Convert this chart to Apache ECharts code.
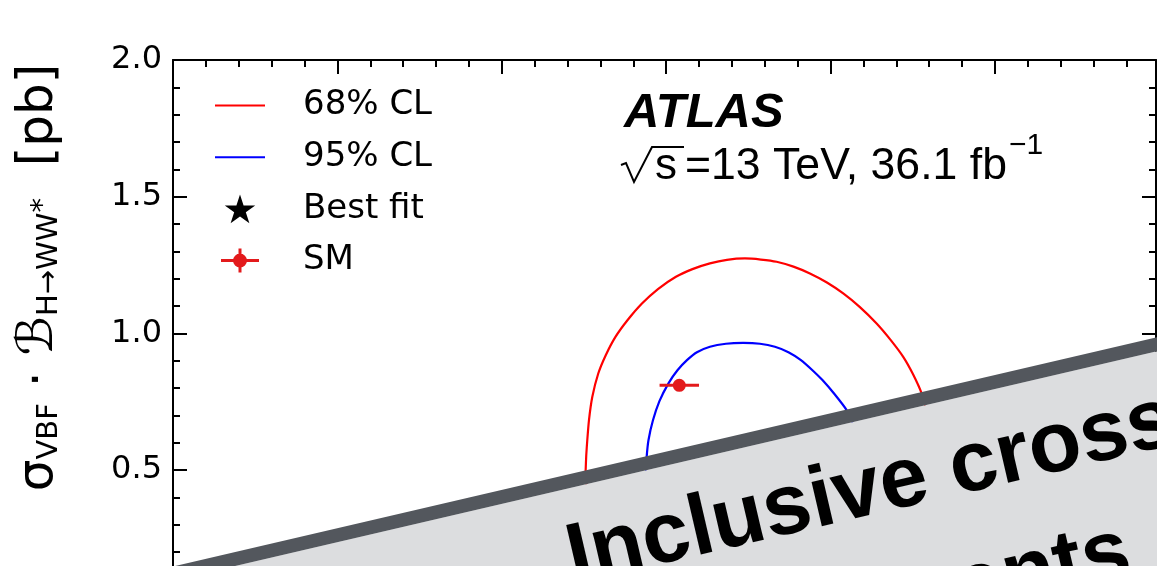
<!DOCTYPE html>
<html>
<head>
<meta charset="utf-8">
<script src="https://cdn.jsdelivr.net/npm/echarts@6/dist/echarts.min.js"></script>
<style>
  html, body { margin: 0; padding: 0; background: #fff; }
  #chart { width: 1157px; height: 566px; }
</style>
</head>
<body>
<div id="chart"></div>
<script>
// Likelihood contours in the (σggF·B, σVBF·B) plane, values in pb
const contour68 = [
  [7.546,0.463],[7.552,0.499],[7.570,0.554],[7.601,0.609],[7.652,0.682],[7.753,0.767],[7.935,0.853],
  [8.163,0.920],[8.458,0.987],[8.823,1.048],[9.264,1.109],[9.751,1.162],[10.298,1.207],[10.800,1.235],
  [11.332,1.256],[11.849,1.269],[12.397,1.274],[12.880,1.270],[13.360,1.262],[13.872,1.244],[14.373,1.219],
  [14.890,1.186],[15.386,1.146],[15.894,1.096],[16.402,1.036],[16.820,0.977],[17.211,0.914],[17.506,0.851],
  [17.771,0.780],[17.95,0.70],[18.06,0.60],[18.10,0.50],[18.05,0.40],[17.88,0.30],[17.55,0.21],
  [17.00,0.13],[16.20,0.07],[15.20,0.04],[14.00,0.03],[12.80,0.05],[11.60,0.09],[10.50,0.14],
  [9.50,0.20],[8.70,0.26],[8.10,0.33],[7.72,0.40],[7.546,0.463]
];
const contour95 = [
  [9.386,0.499],[9.407,0.548],[9.462,0.609],[9.599,0.682],[9.796,0.752],[10.070,0.817],[10.344,0.865],
  [10.633,0.902],[10.937,0.931],[11.332,0.951],[11.818,0.962],[12.345,0.965],[12.853,0.962],[13.309,0.951],
  [13.720,0.931],[14.100,0.902],[14.450,0.865],[14.754,0.829],[15.119,0.778],[15.490,0.719],[15.773,0.646],
  [15.925,0.554],[15.955,0.463],[15.85,0.38],[15.55,0.30],[15.00,0.23],[14.20,0.19],[13.30,0.17],
  [12.30,0.17],[11.40,0.20],[10.60,0.26],[10.00,0.33],[9.60,0.41],[9.386,0.499]
];
// best-fit point
const bestFit = [[11.4, 0.50]];
// SM prediction: x, y, x uncertainty, y uncertainty
const smPoint = [[10.4, 0.81, 0.6, 0.02]];

const legendNames = ['68% CL', '95% CL', 'Best fit', 'SM'];
const yTickLabels = { 0: '0.0', 0.5: '0.5', 1: '1.0', 1.5: '1.5', 2: '2.0' };
const headingLines = ['Inclusive cross section', 'measurements'];

const RED = '#ff0000';
const BLUE = '#0000ff';
const SM_RED = '#e31a1c';
const FONT = 'DejaVu Sans';

// legend glyphs, drawn in a 50x30 box (the leading moves pin the box size)
const BOX = 'M0 0M50 30';
const lineIcon = 'path://' + BOX + 'M0 14L50 14L50 16L0 16Z';
const starShape = 'M25 0.5L28.59 11.56L40.22 11.56L30.81 18.39L34.40 29.44L25 22.61L15.60 29.44L19.19 18.39L9.78 11.56L21.41 11.56Z';
const starIcon = 'path://' + BOX + starShape;
const smIcon = 'path://' + BOX +
  'M6 13.5L44 13.5L44 16.5L6 16.5Z' +
  'M23.5 3L26.5 3L26.5 27L23.5 27Z' +
  'M18 15A7 7 0 1 1 32 15A7 7 0 1 1 18 15Z';

const chart = echarts.init(document.getElementById('chart'), null, { renderer: 'canvas' });

const axisLine = { show: true, onZero: false, lineStyle: { color: '#000', width: 2 } };
const majorTick = { show: true, inside: true, length: 14, lineStyle: { color: '#000', width: 2 } };
const minorTick = { show: true, splitNumber: 5, length: 7, lineStyle: { color: '#000', width: 2 } };

const xBase = { type: 'value', min: -5, max: 24.9, interval: 5, axisLine, axisTick: majorTick, minorTick,
  splitLine: { show: false }, minorSplitLine: { show: false }, axisLabel: { show: false } };
const yBase = { type: 'value', min: 0, max: 2, interval: 0.5, axisLine, axisTick: majorTick, minorTick,
  splitLine: { show: false }, minorSplitLine: { show: false } };

// banner geometry: a tilted ribbon laid across the lower part of the plot
const ribbonAngle = Math.atan(0.233);
const RIBBON_FONT = 'Liberation Sans';

const option = {
  animation: false,
  backgroundColor: '#ffffff',
  grid: { left: 173, top: 60, width: 983, height: 546.7, containLabel: false, outerBoundsMode: 'none' },
  xAxis: [
    Object.assign({}, xBase, { position: 'bottom' }),
    Object.assign({}, xBase, { position: 'top' })
  ],
  yAxis: [
    Object.assign({}, yBase, {
      position: 'left',
      axisLabel: {
        show: true, margin: 11, color: '#000', fontFamily: FONT, fontSize: 32,
        formatter: v => yTickLabels[v] !== undefined ? yTickLabels[v] : v.toFixed(1)
      }
    }),
    Object.assign({}, yBase, { position: 'right', axisLabel: { show: false } })
  ],
  legend: {
    orient: 'vertical',
    left: 210,
    top: 83.5,
    itemWidth: 50,
    itemHeight: 30,
    itemGap: 17.7,
    selectedMode: false,
    symbolKeepAspect: true,
    itemStyle: { borderWidth: 0 },
    textStyle: { fontFamily: FONT, fontSize: 34, color: '#000', padding: [0, 0, 0, 33] },
    data: [
      { name: legendNames[0], icon: lineIcon },
      { name: legendNames[1], icon: lineIcon },
      { name: legendNames[2], icon: starIcon },
      { name: legendNames[3], icon: smIcon }
    ]
  },
  series: [
    {
      name: legendNames[0], type: 'line', data: contour68, smooth: 0.2, symbol: 'none',
      lineStyle: { color: RED, width: 2.2 }, itemStyle: { color: RED, borderWidth: 0 }, z: 3
    },
    {
      name: legendNames[1], type: 'line', data: contour95, smooth: 0.2, symbol: 'none',
      lineStyle: { color: BLUE, width: 2.2 }, itemStyle: { color: BLUE, borderWidth: 0 }, z: 3
    },
    {
      name: legendNames[2], type: 'scatter', data: bestFit, symbol: 'path://' + starShape,
      symbolSize: 30, itemStyle: { color: '#000', opacity: 1 }, z: 4
    },
    {
      name: legendNames[3], type: 'custom', data: smPoint, itemStyle: { color: SM_RED, opacity: 1 }, z: 5,
      renderItem: function (params, api) {
        const x = api.value(0), y = api.value(1), ex = api.value(2), ey = api.value(3);
        const c = api.coord([x, y]);
        const l = api.coord([x - ex, y]), r = api.coord([x + ex, y]);
        const t = api.coord([x, y + ey]), b = api.coord([x, y - ey]);
        const st = { stroke: SM_RED, lineWidth: 3 };
        return {
          type: 'group',
          children: [
            { type: 'line', shape: { x1: l[0], y1: l[1], x2: r[0], y2: r[1] }, style: st },
            { type: 'line', shape: { x1: t[0], y1: t[1], x2: b[0], y2: b[1] }, style: st },
            { type: 'circle', shape: { cx: c[0], cy: c[1], r: 6.5 }, style: { fill: SM_RED } }
          ]
        };
      }
    }
  ],
  graphic: [
    // y-axis title
    {
      type: 'text', x: 38.7, y: 277.5, rotation: Math.PI / 2, z: 10,
      style: {
        text: '{m|σ}{sub|VBF}{m| · ℬ}{sub|H→WW}{sup|*}{m|  [pb]}',
        align: 'center', verticalAlign: 'middle', textAlign: 'center', textVerticalAlign: 'middle',
        fill: '#000',
        rich: {
          m: { fontFamily: FONT, fontSize: 50, fill: '#000' },
          sub: { fontFamily: FONT, fontSize: 29, fill: '#000', padding: [22, 0, 0, 0] },
          sup: { fontFamily: FONT, fontSize: 29, fill: '#000', padding: [10, 0, 0, 0] }
        }
      }
    },
    // experiment label
    {
      type: 'text', x: 624, y: 113.4, z: 10,
      style: {
        text: 'ATLAS', fontFamily: 'Liberation Sans', fontWeight: 'bold', fontStyle: 'italic',
        fontSize: 49, fill: '#000', align: 'left', verticalAlign: 'middle',
        textAlign: 'left', textVerticalAlign: 'middle'
      }
    },
    {
      type: 'polyline', z: 10,
      shape: { points: [[621, 165], [626, 163], [634, 182], [652, 147], [684, 147]] },
      style: { stroke: '#000', lineWidth: 2, fill: null, lineJoin: 'miter' }
    },
    {
      type: 'text', x: 655, y: 166.5, z: 10,
      style: {
        text: 's', fontFamily: 'Liberation Sans', fontSize: 44, fill: '#000',
        align: 'left', verticalAlign: 'middle', textAlign: 'left', textVerticalAlign: 'middle'
      }
    },
    {
      type: 'text', x: 685, y: 166.5, z: 10,
      style: {
        text: '=13 TeV, 36.1 fb', fontFamily: 'Liberation Sans', fontSize: 44.6, fill: '#000',
        align: 'left', verticalAlign: 'middle', textAlign: 'left', textVerticalAlign: 'middle'
      }
    },
    {
      type: 'text', x: 1009, y: 146, z: 10,
      style: {
        text: '−1', fontFamily: 'Liberation Sans', fontSize: 30, fill: '#000',
        align: 'left', verticalAlign: 'middle', textAlign: 'left', textVerticalAlign: 'middle'
      }
    },
    // tilted ribbon with heading
    {
      type: 'group', x: 640, y: 457.7, rotation: ribbonAngle, z: 100,
      children: [
        { type: 'rect', z: 100, shape: { x: -700, y: 13.6, width: 1500, height: 500 }, style: { fill: '#dcdddf' } },
        { type: 'rect', z: 101, shape: { x: -700, y: 0, width: 1500, height: 13.6 }, style: { fill: '#53575d' } },
        {
          type: 'text', z: 102, x: -93, y: 84.2,
          style: {
            text: headingLines[0], fontFamily: RIBBON_FONT, fontWeight: 'bold', fontSize: 86,
            fill: '#000', align: 'left', verticalAlign: 'middle', textAlign: 'left', textVerticalAlign: 'middle'
          }
        },
        {
          type: 'text', z: 102, x: -152, y: 202.5,
          style: {
            text: headingLines[1], fontFamily: RIBBON_FONT, fontWeight: 'bold', fontSize: 86,
            fill: '#000', align: 'left', verticalAlign: 'middle', textAlign: 'left', textVerticalAlign: 'middle'
          }
        }
      ]
    }
  ]
};

chart.setOption(option);
</script>
</body>
</html>
